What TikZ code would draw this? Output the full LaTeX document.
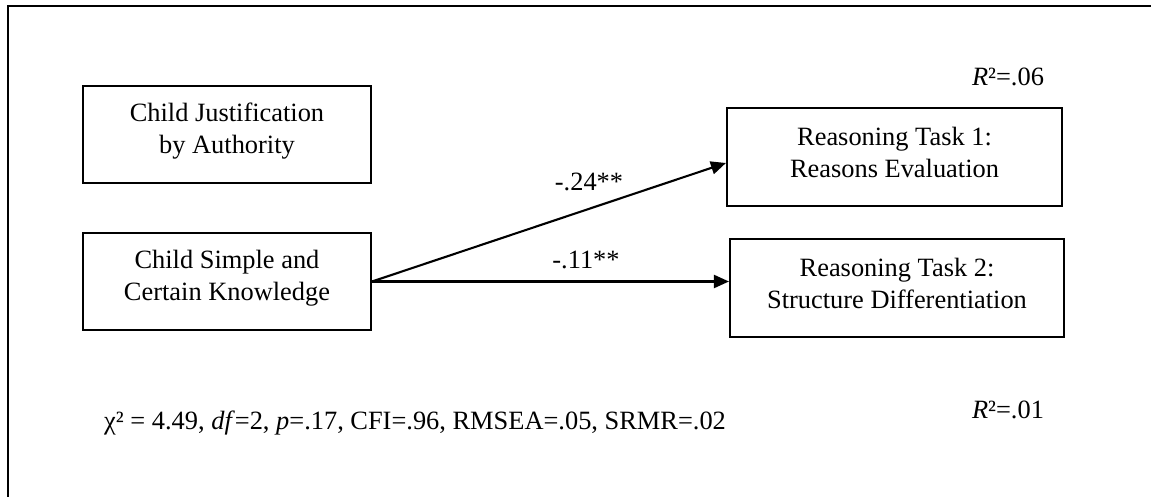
\documentclass[tikz,border=0pt]{standalone}
\usepackage{fontspec}
\setmainfont{Liberation Serif}
\usetikzlibrary{arrows.meta}
\begin{document}
\begin{tikzpicture}[x=1pt,y=-1pt,
  box/.style={draw, line width=2.1pt, minimum width=#1, inner sep=0pt},
  box/.default=288pt,
  boxtext/.style={align=center, inner sep=0pt, font=\fontsize{26.4}{32}\selectfont},
  lbl/.style={inner sep=0pt, font=\fontsize{26.4}{32}\selectfont},
  link/.style={line width=2.1pt, -{Triangle[length=15pt,width=13pt]}}
]
\useasboundingbox (0,0) rectangle (1151,497);

% frame
\draw[line width=2.1pt] (1151,6) -- (8,6) -- (8,497);

% predictors
\node[box, minimum height=97pt] (A) at (227,134.5) {};
\node[boxtext] (At) at ([yshift=3pt]A.center) {Child Justification\\by Authority};
\node[box, minimum height=97pt] (B) at (227,281.5) {};
\node[boxtext] (Bt) at ([yshift=3pt]B.center) {Child Simple and\\Certain Knowledge};

% outcomes
\node[box=335pt, minimum height=98pt] (C) at (894.5,157) {};
\node[boxtext] (Ct) at ([yshift=5pt]C.center) {Reasoning Task 1:\\Reasons Evaluation};
\node[box=334pt, minimum height=98pt] (D) at (897,288) {};
\node[boxtext] (Dt) at ([yshift=5pt]D.center) {Reasoning Task 2:\\Structure Differentiation};

% paths
\draw[link] (B.east) -- ([yshift=-6pt]C.west);
\draw[link] (B.east) -- (B.east -| D.west);

\node[lbl] (p1) at (589,182) {-.24**};
\node[lbl] (p2) at (586,260) {-.11**};

% explained variance
\node[lbl] (r1) at (1008,77) {\textit{R}²=.06};
\node[lbl] (r2) at (1008,410) {\textit{R}²=.01};

% fit indices
\node[lbl, anchor=west] (fit) at (104,423) {χ² = 4.49, \textit{df}=2, \textit{p}=.17, CFI=.96, RMSEA=.05, SRMR=.02};
\end{tikzpicture}
\end{document}
